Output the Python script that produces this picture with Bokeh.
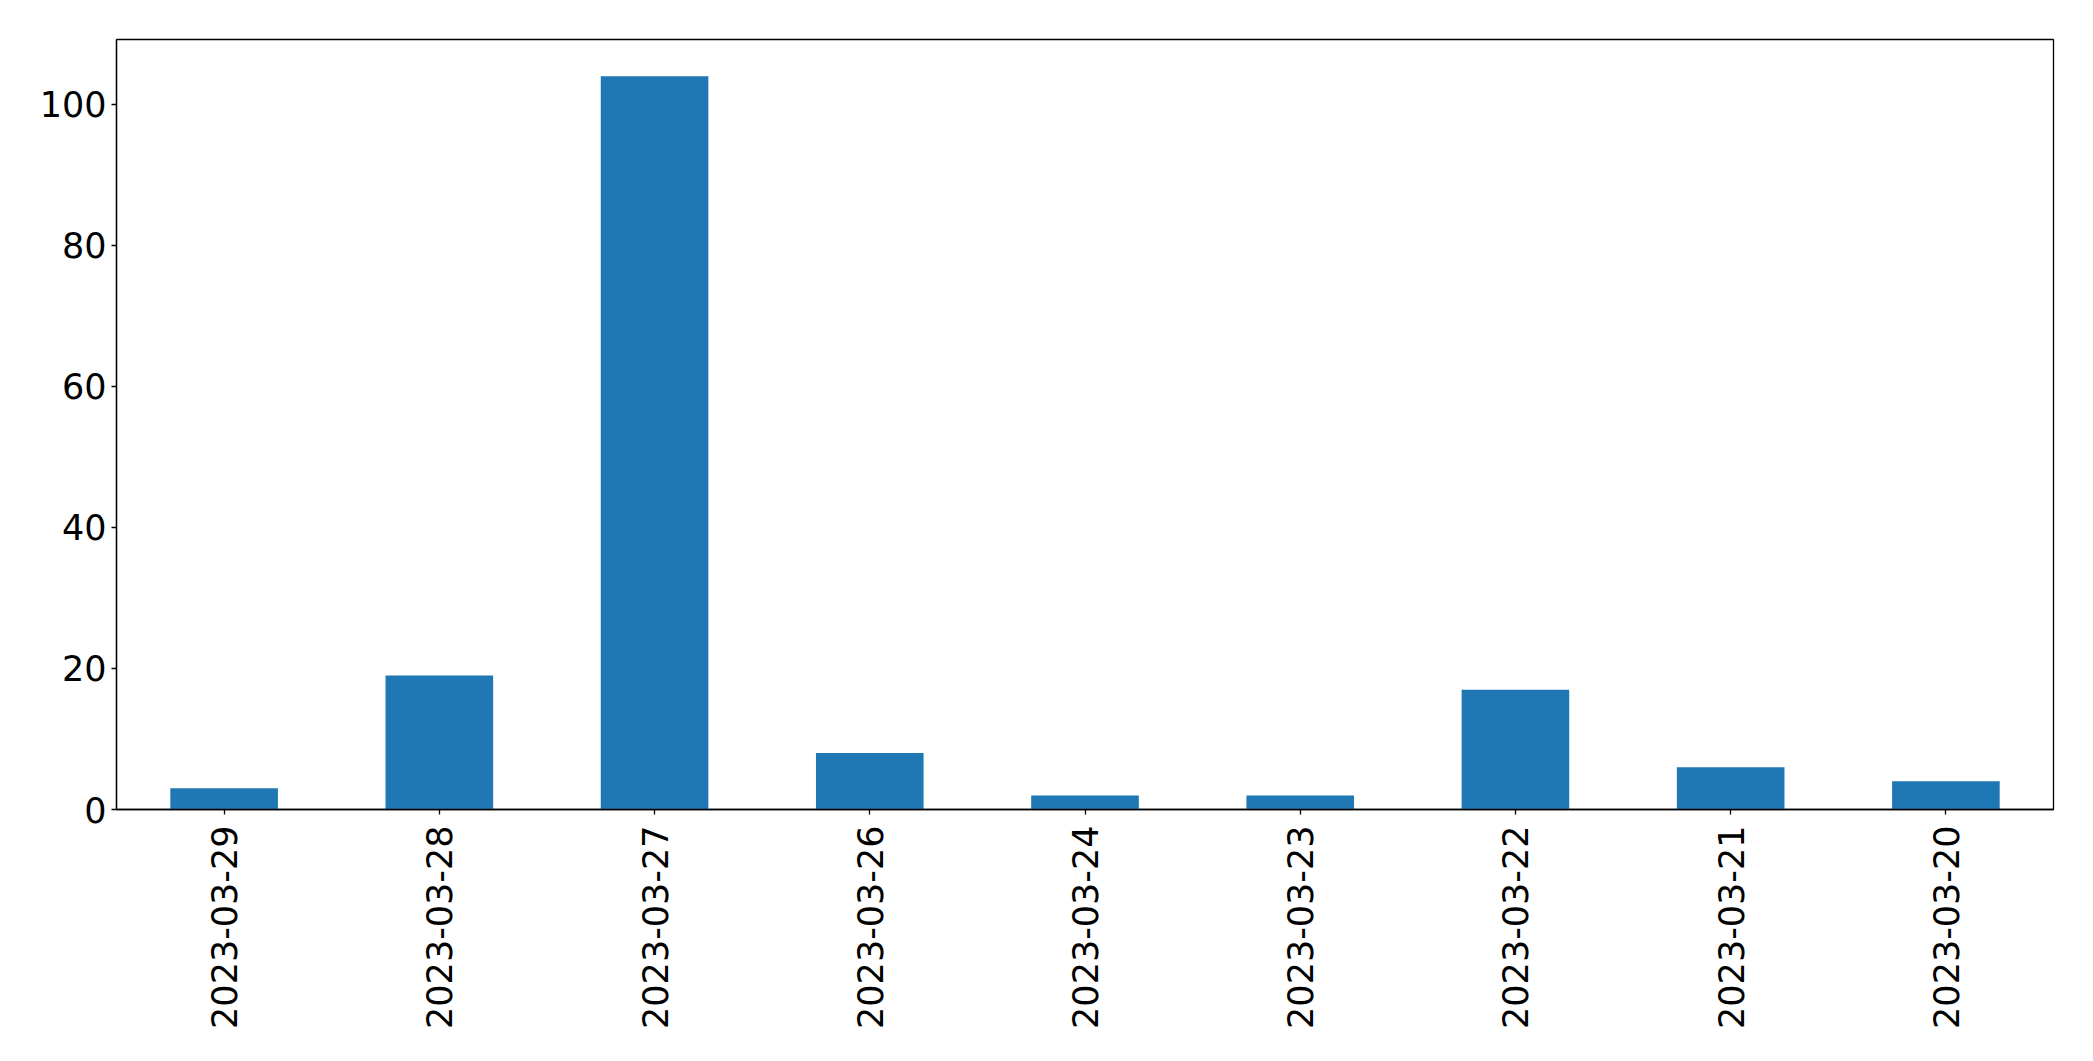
import math
from bokeh.plotting import figure
from bokeh.models import FactorRange, Range1d, FixedTicker, ColumnDataSource
from bokeh.embed import file_html
from bokeh.resources import INLINE

dates = ["2023-03-29", "2023-03-28", "2023-03-27", "2023-03-26", "2023-03-24",
         "2023-03-23", "2023-03-22", "2023-03-21", "2023-03-20"]
counts = [3, 19, 104, 8, 2, 2, 17, 6, 4]
y_ticks = [0, 20, 40, 60, 80, 100]

src = ColumnDataSource(dict(x=dates, y=counts))

p = figure(width=2085, height=1053, output_backend="svg", toolbar_location=None,
           x_range=FactorRange(*dates, range_padding=0),
           y_range=Range1d(0, max(counts) * 1.05),
           min_border_left=116, min_border_right=32, min_border_top=39,
           min_border_bottom=244)

p.vbar(x="x", top="y", width=0.5, source=src, color="#1f77b4", line_color=None)

p.xgrid.visible = False
p.ygrid.visible = False
p.outline_line_color = "black"
p.outline_line_width = 1.3
p.outline_line_alpha = 1

for ax in (p.xaxis, p.yaxis):
    ax.axis_line_color = "black"
    ax.axis_line_width = 1.3
    ax.major_tick_line_color = "black"
    ax.major_tick_line_width = 1.3
    ax.major_tick_out = 5
    ax.major_tick_in = 0
    ax.minor_tick_line_color = None
    ax.major_label_text_font = "DejaVu Sans"
    ax.major_label_text_font_size = "35px"
    ax.major_label_text_color = "black"

p.yaxis.ticker = FixedTicker(ticks=y_ticks)
p.yaxis.major_label_standoff = 5
p.xaxis.major_label_orientation = math.pi / 2
p.xaxis.major_label_standoff = 11

open("out.html", "w").write(file_html(p, INLINE))
